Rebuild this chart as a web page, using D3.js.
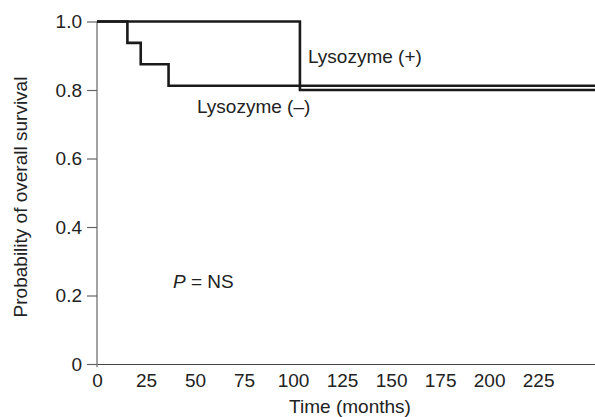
<!DOCTYPE html>
<html>
<head>
<meta charset="utf-8">
<script src="https://cdn.jsdelivr.net/npm/d3@7"></script>
<style>
  html, body { margin: 0; padding: 0; background: #fff; }
  svg { display: block; }
  text { font-family: "Liberation Sans", Arial, Helvetica, sans-serif; fill: #222; }
</style>
</head>
<body>
<svg id="chart" width="595" height="417"></svg>
<script>
// ---- data ----
const xTicks = [0, 25, 50, 75, 100, 125, 150, 175, 200, 225];
const yTicks = [0, 0.2, 0.4, 0.6, 0.8, 1.0];
const yTickLabels = ["0", "0.2", "0.4", "0.6", "0.8", "1.0"];
const negTimes = [0, 15.5, 22.3, 36.5, 254];
const negSurv  = [1, 0.9375, 0.875, 0.8125, 0.8125];
const posTimes = [0, 103.5, 254];
const posSurv  = [1, 0.80, 0.80];
const seriesLabels = ["Lysozyme (+)", "Lysozyme (\u2013)"];
const xTitle = "Time (months)";
const yTitle = "Probability of overall survival";

// ---- layout ----
const svg = d3.select("#chart");
const x = d3.scaleLinear().domain([0, 254]).range([97, 595]);
const y = d3.scaleLinear().domain([0, 1]).range([364, 21.5]);
const axisColor = "#666";
const fs = 19;

// y axis
const yAxis = svg.append("g").attr("transform", `translate(${x(0)},0)`)
  .call(d3.axisLeft(y).tickValues(yTicks).tickFormat((d, i) => yTickLabels[i])
    .tickSize(10).tickPadding(5).tickSizeOuter(0));
yAxis.select(".domain").remove();
yAxis.append("line").attr("x1", 0).attr("x2", 0).attr("y1", y(1)).attr("y2", y(0) + 3)
  .attr("stroke", axisColor).attr("stroke-width", 1.2);
yAxis.selectAll(".tick line").attr("stroke", axisColor).attr("stroke-width", 1.2);
yAxis.selectAll(".tick text").attr("font-size", fs).attr("fill", "#222")
  .attr("font-family", '"Liberation Sans", Arial, sans-serif');

// x axis
const xAxis = svg.append("g").attr("transform", `translate(0,${y(0)})`)
  .call(d3.axisBottom(x).tickValues(xTicks).tickSize(0).tickPadding(10).tickSizeOuter(0));
xAxis.select(".domain").attr("stroke", "#444").attr("stroke-width", 1.2);
xAxis.selectAll(".tick text").attr("font-size", fs).attr("fill", "#222")
  .attr("font-family", '"Liberation Sans", Arial, sans-serif');

// curves
const line = d3.line().x(d => x(d[0])).y(d => y(d[1])).curve(d3.curveStepAfter);
const neg = negTimes.map((t, i) => [t, negSurv[i]]);
const pos = posTimes.map((t, i) => [t, posSurv[i]]);
svg.append("path").attr("d", line(pos)).attr("fill", "none")
  .attr("stroke", "#1a1a1a").attr("stroke-width", 2.6);
svg.append("path").attr("d", line(neg)).attr("fill", "none")
  .attr("stroke", "#1a1a1a").attr("stroke-width", 2.6);

// labels
svg.append("text").attr("x", 308).attr("y", 62.5).attr("font-size", fs).text(seriesLabels[0]);
svg.append("text").attr("x", 197).attr("y", 113).attr("font-size", fs).text(seriesLabels[1]);
const p = svg.append("text").attr("x", 173).attr("y", 288).attr("font-size", fs);
p.append("tspan").attr("font-style", "italic").text("P");
p.append("tspan").text(" = NS");

// axis titles
svg.append("text").attr("x", 350).attr("y", 412.5).attr("text-anchor", "middle")
  .attr("font-size", fs).text(xTitle);
svg.append("text").attr("transform", "translate(26.5,197) rotate(-90)")
  .attr("text-anchor", "middle").attr("font-size", fs).text(yTitle);
</script>
</body>
</html>
